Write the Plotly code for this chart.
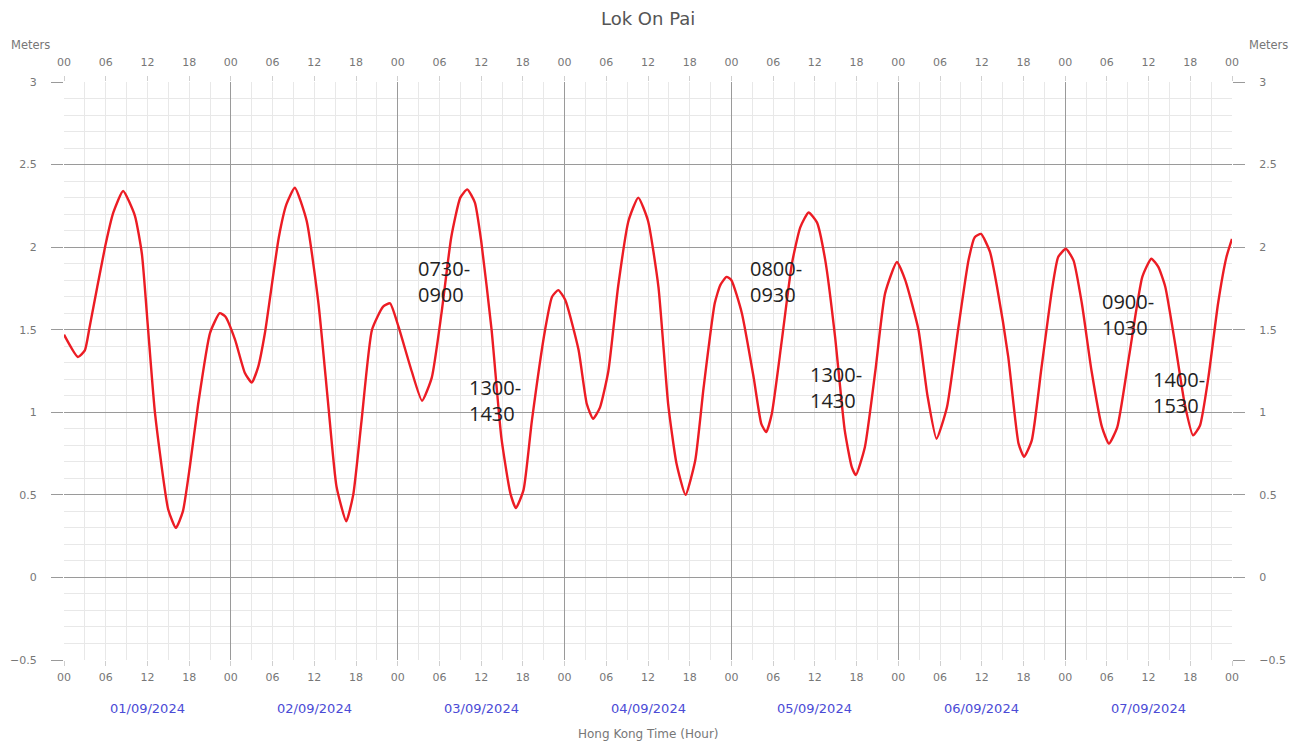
"""
Lok On Pai tide chart
"""

import plotly.graph_objects as go

# hours from 00:00 01/09/2024 and tide height (m)
hours = [
    0, 2, 3, 3.7, 5.9, 7.1, 8.5, 10.2, 11.2, 12.1, 13.1, 15.0, 16.1, 17.1, 18.1,
    19.3, 21.0, 22.4, 23.2, 24.6, 26.0, 27.0, 27.9, 28.9, 30.9, 32.0, 33.2, 34.9,
    36.6, 38.0, 39.2, 40.6, 41.6, 42.8, 44.3, 45.9, 46.9, 48.1, 50.0, 51.5, 52.9,
    54.3, 55.7, 57.0, 58.0, 59.1, 60.0, 61.5, 62.9, 64.2, 65.0, 66.1, 67.3, 69.2,
    70.2, 71.1, 72.1, 74.0, 75.2, 76.1, 77.1, 78.3, 79.7, 81.2, 82.6, 84.0, 85.5,
    86.9, 88.1, 89.4, 90.8, 92.0, 93.6, 94.4, 95.3, 96.0, 97.5, 99.2, 100.3, 101.0,
    101.8, 103.2, 104.7, 105.9, 107.1, 108.3, 109.5, 110.9, 112.3, 113.3, 113.9,
    115.2, 116.7, 118.1, 119.8, 121.0, 122.9, 124.2, 125.5, 127.0, 128.6, 130.1,
    131.0, 131.9, 133.2, 134.2, 135.8, 137.3, 138.1, 139.2, 140.6, 142.1, 143.0,
    144.1, 145.2, 146.4, 147.8, 149.3, 150.3, 151.5, 153.2, 155.1, 156.4, 157.4,
    158.4, 159.8, 161.2, 162.4, 163.4, 164.6, 166.0, 167.2, 168,
]
heights = [
    1.47, 1.335, 1.375, 1.52, 2.0, 2.21, 2.34, 2.19, 1.96, 1.50, 0.99, 0.41, 0.30,
    0.40, 0.67, 1.05, 1.48, 1.60, 1.58, 1.44, 1.24, 1.18, 1.27, 1.48, 2.06, 2.26,
    2.36, 2.16, 1.66, 1.05, 0.55, 0.34, 0.50, 0.95, 1.50, 1.64, 1.66, 1.52, 1.25,
    1.07, 1.21, 1.60, 2.06, 2.30, 2.35, 2.27, 2.04, 1.50, 0.85, 0.51, 0.42, 0.53,
    0.95, 1.50, 1.70, 1.74, 1.68, 1.38, 1.05, 0.96, 1.03, 1.25, 1.76, 2.16, 2.30,
    2.16, 1.76, 1.05, 0.69, 0.50, 0.71, 1.15, 1.66, 1.77, 1.82, 1.80, 1.60, 1.21,
    0.93, 0.88, 0.99, 1.42, 1.90, 2.12, 2.21, 2.15, 1.92, 1.46, 0.89, 0.67, 0.62,
    0.79, 1.25, 1.72, 1.91, 1.80, 1.50, 1.10, 0.84, 1.03, 1.50, 1.92, 2.06, 2.08,
    1.97, 1.76, 1.34, 0.81, 0.73, 0.83, 1.27, 1.74, 1.94, 1.99, 1.92, 1.66, 1.25,
    0.91, 0.81, 0.91, 1.34, 1.82, 1.93, 1.88, 1.76, 1.42, 1.05, 0.86, 0.92, 1.21,
    1.66, 1.94, 2.05,
]

dates = ["01/09/2024", "02/09/2024", "03/09/2024", "04/09/2024",
         "05/09/2024", "06/09/2024", "07/09/2024"]
date_hours = [12, 36, 60, 84, 108, 132, 156]

tick_hours = list(range(0, 169, 6))
tick_text = ["%02d" % (h % 24) for h in tick_hours]

# time window notes: text, hour, height
notes = ["0730-<br>0900", "1300-<br>1430", "0800-<br>0930",
         "1300-<br>1430", "0900-<br>1030", "1400-<br>1530"]
note_hours = [50.6, 58.0, 98.4, 107.0, 149.0, 156.4]
note_heights = [1.79, 1.07, 1.79, 1.15, 1.59, 1.12]

GRID_DARK = "#9a9a9a"
GRID_LIGHT = "#e8e8e8"
UI_FONT = "DejaVu Sans"
TICK_FONT = dict(family=UI_FONT, size=11, color="#777777")

# the page body adds an 8px margin, so the figure is shifted by that much
FIG_W, FIG_H = 1284, 739

fig = go.Figure()

fig.add_trace(
    go.Scatter(
        x=hours,
        y=heights,
        mode="lines",
        line=dict(color="#ec1c24", width=2.4, shape="spline", smoothing=0.5),
        showlegend=False,
    )
)
# invisible copies so the top and right axes get drawn
fig.add_trace(
    go.Scatter(x=hours, y=heights, xaxis="x2", yaxis="y2", mode="lines",
               line=dict(color="rgba(0,0,0,0)"), hoverinfo="skip", showlegend=False)
)
fig.add_trace(
    go.Scatter(x=hours, y=heights, xaxis="x3", mode="lines",
               line=dict(color="rgba(0,0,0,0)"), hoverinfo="skip", showlegend=False)
)

for text, h, v in zip(notes, note_hours, note_heights):
    fig.add_annotation(
        x=h, y=v, text=text, showarrow=False, xanchor="left", yanchor="middle",
        align="left", font=dict(family="Open Sans", size=20, color="#222222"),
    )

for d, h in zip(dates, date_hours):
    fig.add_annotation(
        x=h, y=0, yref="paper", yanchor="middle", yshift=-48, text=d,
        showarrow=False, font=dict(family=UI_FONT, size=13, color="#4b4bd6"),
    )

# chart title
fig.add_annotation(
    x=0.5, y=1, xref="paper", yref="paper", yanchor="middle", yshift=64,
    text="Lok On Pai", showarrow=False,
    font=dict(family=UI_FONT, size=18, color="#555555"),
)
fig.add_annotation(
    x=0.5, y=0, xref="paper", yref="paper", yanchor="middle", yshift=-74,
    text="Hong Kong Time (Hour)", showarrow=False,
    font=dict(family=UI_FONT, size=12, color="#777777"),
)
for xp, xs in [(0, -34), (1, 36)]:
    fig.add_annotation(
        x=xp, y=1, xref="paper", yref="paper", xshift=xs, yshift=37,
        xanchor="center", yanchor="middle", text="Meters", showarrow=False,
        font=dict(family=UI_FONT, size=11.5, color="#777777"),
    )

xcommon = dict(
    range=[0, 168], tickmode="array", tickvals=tick_hours, ticktext=tick_text,
    tickfont=TICK_FONT, ticks="outside", ticklen=5, tickcolor="#cfcfcf",
    zeroline=False, automargin=False,
)
ycommon = dict(
    range=[-0.5, 3], dtick=0.5, tick0=0, tickfont=TICK_FONT, ticks="outside",
    ticklen=12, tickcolor=GRID_DARK, zeroline=False, ticklabelstandoff=12,
    automargin=False,
)

fig.update_layout(
    width=FIG_W,
    height=FIG_H,
    plot_bgcolor="white",
    paper_bgcolor="white",
    margin=dict(l=56, r=60, t=74, b=87, autoexpand=False),
    xaxis=dict(
        **xcommon, side="bottom", showgrid=True, gridcolor=GRID_LIGHT,
        minor=dict(dtick=3, tick0=0, showgrid=True, gridcolor=GRID_LIGHT),
        ticklabelstandoff=2,
    ),
    xaxis2=dict(**xcommon, side="top", overlaying="x", anchor="y",
                showgrid=False, ticklabelstandoff=6),
    xaxis3=dict(range=[0, 168], dtick=24, tick0=0, overlaying="x", anchor="y",
                showgrid=True, gridcolor=GRID_DARK, showticklabels=False,
                ticks="", zeroline=False, automargin=False),
    yaxis=dict(
        **ycommon, side="left", showgrid=True, gridcolor=GRID_DARK,
        minor=dict(dtick=0.1, showgrid=True, gridcolor=GRID_LIGHT),
    ),
    yaxis2=dict(**ycommon, side="right", overlaying="y", anchor="x", showgrid=False),
)

fig.write_html("out.html")
